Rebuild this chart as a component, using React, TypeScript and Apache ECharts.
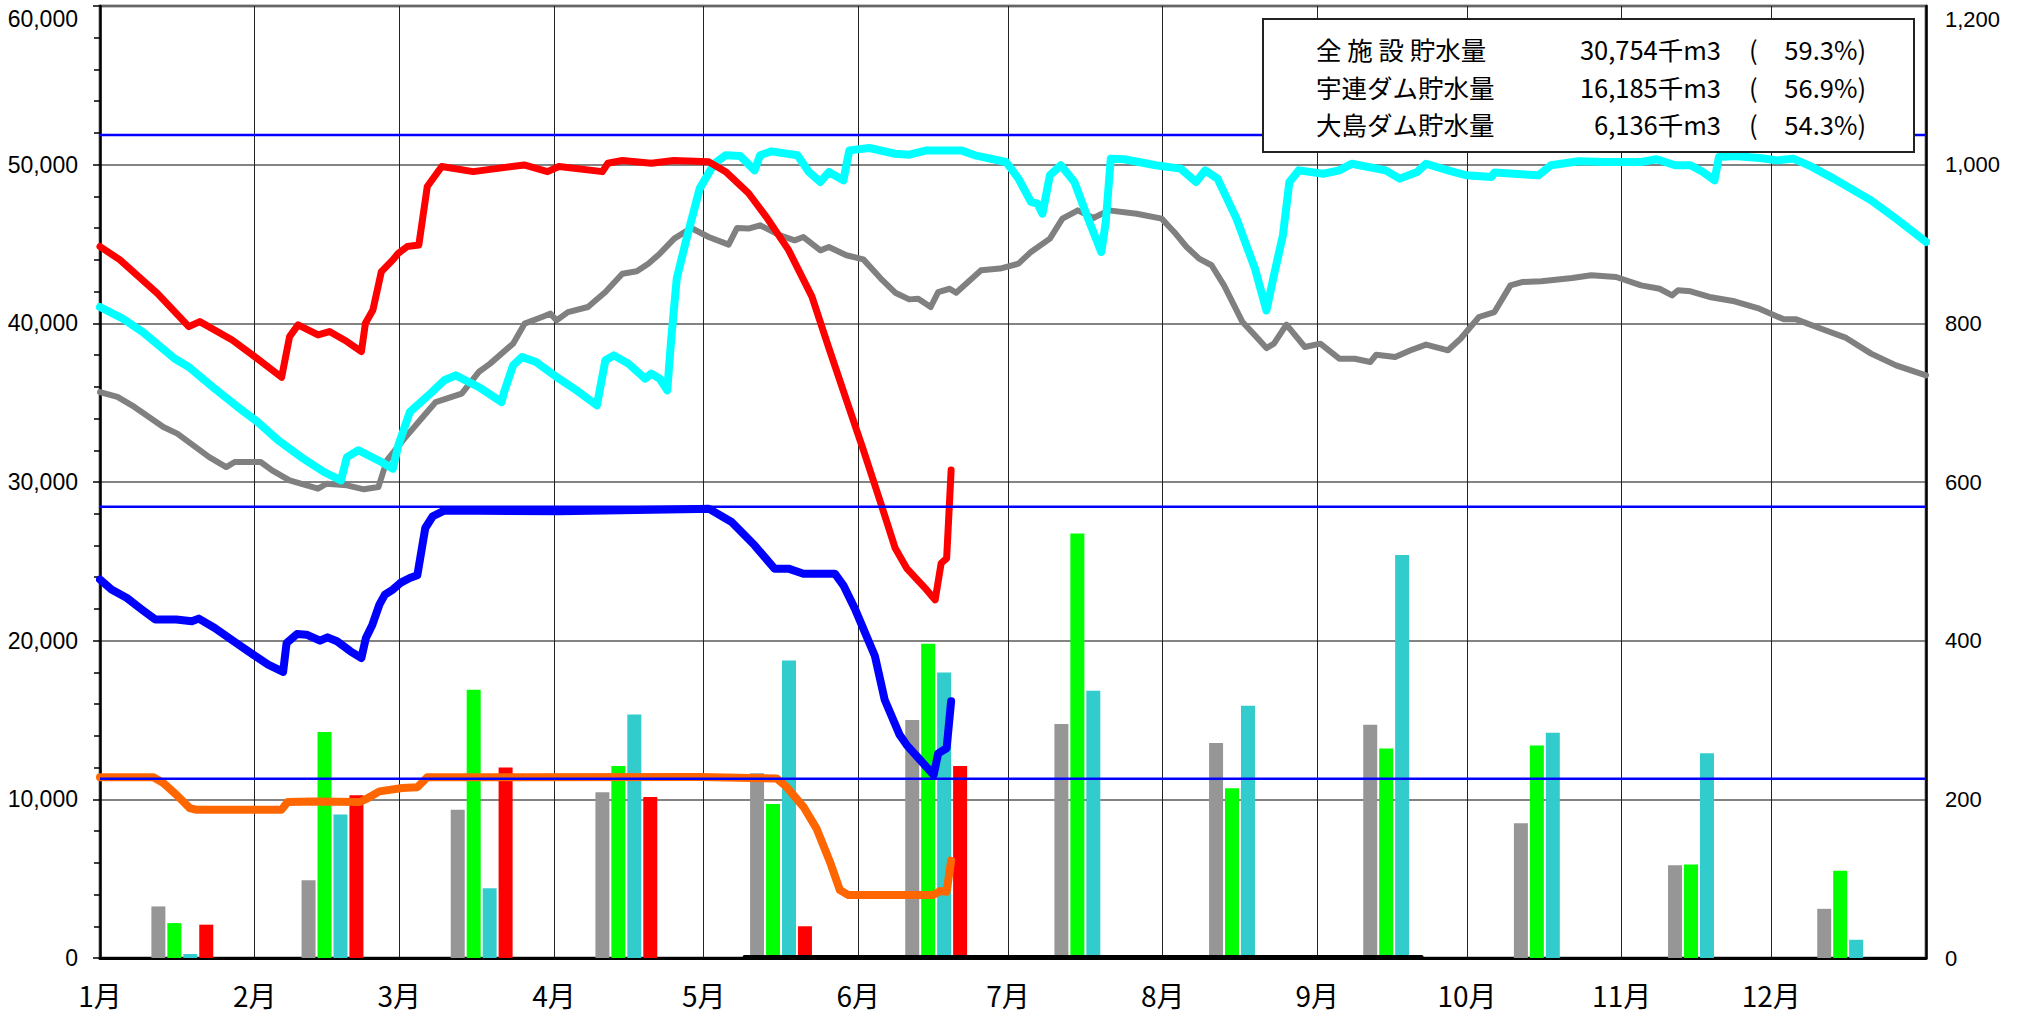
import React, { useEffect, useRef } from 'react';
import * as echarts from 'echarts';

// ---- axis / calendar data ----
const monthLabels = ['1月', '2月', '3月', '4月', '5月', '6月', '7月', '8月', '9月', '10月', '11月', '12月'];
const monthStartDays = [0, 31, 60, 91, 121, 152, 182, 213, 244, 274, 305, 335];
const daysInYear = 366;
const leftAxisMax = 60000;
const leftAxisStep = 10000;
const rightAxisMax = 1200;
const rightAxisStep = 200;

// ---- capacity levels (full storage) ----
const capacityLevels = [51862, 28445, 11300];

// ---- storage summary (box) ----
const storageNames = ['全 施 設 貯水量', '宇連ダム貯水量', '大島ダム貯水量'];
const storageVolumes = ['30,754', '16,185', '6,136'];
const storageRates = ['59.3', '56.9', '54.3'];

// ---- monthly rainfall bars (mm, right axis) ----
const barDays = [16.5, 46.6, 76.5, 105.5, 136.5, 167.6, 197.5, 228.5, 259.4, 289.6, 320.5, 350.4];
const rainGray = [65, 98, 187, 209, 233, 300, 295, 271, 294, 170, 117, 62];
const rainGreen = [44, 285, 338, 242, 194, 396, 535, 214, 264, 268, 118, 110];
const rainCyan = [5, 181, 88, 307, 375, 360, 337, 318, 508, 284, 258, 23];
const rainRed = [42, 205, 240, 203, 40, 242];

// ---- storage lines: [day of year, 千m3] ----
const grayLine: [number, number][] = [
  [0, 35670], [3.5, 35360], [6.9, 34730], [12.7, 33470], [15.5, 33050], [21.9, 31570], [25.3, 30940], [27, 31260],
  [32.2, 31260], [34.5, 30730], [38, 30100], [43.7, 29580], [45.4, 29890], [49.5, 29790], [52.9, 29540], [55.8, 29680],
  [57.5, 31360], [61, 32730], [64.4, 33990], [67.3, 35040], [72.5, 35570], [75.9, 36930], [78.2, 37460], [82.8, 38720],
  [85.1, 39980], [88.6, 40400], [90.3, 40610], [91.5, 40190], [93.8, 40710], [97.8, 41030], [101.3, 41970], [104.7, 43130],
  [107.6, 43280], [109.9, 43760], [112.2, 44390], [115.1, 45340], [118.5, 46010], [122, 45440], [126, 44960], [127.7, 46010],
  [130, 45970], [132.3, 46180], [136.3, 45550], [139.2, 45230], [141, 45440], [144.4, 44600], [146.1, 44810], [149.6, 44290],
  [153, 44030], [156.5, 42820], [159.4, 41930], [162.2, 41510], [164, 41550], [166.5, 41030], [168, 41970], [170.3, 42180],
  [171.6, 41930], [176.6, 43340], [180.4, 43450], [184.1, 43760], [186.6, 44500], [190.4, 45340], [192.9, 46600], [196, 47120],
  [199.1, 46640], [202.2, 47120], [207.8, 46910], [212.8, 46600], [215.3, 45760], [217.8, 44810], [220.3, 44080], [222.8, 43660],
  [225.3, 42390], [229, 40080], [231.5, 39240], [233.8, 38440], [235.3, 38720], [237.8, 39920], [241.5, 38510], [244.6, 38720],
  [248.4, 37770], [251.5, 37770], [254.6, 37560], [255.8, 38020], [259.6, 37880], [262.7, 38300], [265.8, 38660], [270.2, 38300],
  [272.7, 39030], [276.4, 40400], [279.5, 40710], [282.7, 42390], [285.2, 42610], [288.9, 42650], [295.1, 42860], [298.9, 43030],
  [303.9, 42920], [308.9, 42390], [312.6, 42180], [315.1, 41760], [316.3, 42080], [318.8, 42020], [322.6, 41660], [327.6, 41390],
  [332.6, 40920], [337.5, 40250], [340, 40250], [345, 39660], [350, 39080], [355, 38090], [360, 37350], [366, 36720],
];

const cyanLine: [number, number][] = [
  [0, 41030], [4.6, 40290], [8.6, 39450], [15, 37770], [17.8, 37250], [23, 35880], [27.6, 34730], [31.6, 33780],
  [35.7, 32630], [40.3, 31570], [44.9, 30630], [48.3, 30100], [49.5, 31570], [51.8, 32000], [56.4, 31260], [58.7, 30840],
  [59.8, 32310], [62.1, 34410], [66.2, 35570], [69, 36410], [71.3, 36720], [75.9, 35990], [80.5, 35040], [81, 35670],
  [82.8, 37350], [84.6, 37880], [87.4, 37560], [92, 36510], [95.5, 35780], [99.6, 34830], [101.3, 37670], [103, 37980],
  [105.9, 37460], [109.3, 36510], [110.5, 36830], [112.2, 36510], [113.7, 35780], [114.5, 39030], [115.6, 42820], [117.4, 45130],
  [120.2, 48490], [123.1, 50060], [125.4, 50590], [128.3, 50550], [131.2, 49640], [132.3, 50590], [134.6, 50840], [139.8, 50590],
  [142.1, 49540], [144.4, 48910], [146.1, 49540], [149, 49010], [150.2, 50900], [154.2, 51050], [159.4, 50690], [162.2, 50630],
  [165.7, 50900], [172.6, 50900], [175.4, 50590], [181.6, 50170], [184.1, 49120], [186.6, 47650], [187.9, 47540], [188.9, 46910],
  [190.4, 49330], [192.6, 49960], [195.3, 48910], [197.8, 46810], [200.7, 44500], [201.6, 46390], [202.6, 50380], [205.3, 50340],
  [211.6, 49960], [216.6, 49750], [219.7, 48910], [221.5, 49640], [224, 49120], [227.8, 46600], [231.5, 43450], [233.8, 40820],
  [235.3, 43030], [237.1, 45550], [238.4, 48910], [240.3, 49640], [245.2, 49430], [248.4, 49640], [250.9, 50060], [257.7, 49640],
  [260.5, 49120], [264, 49540], [265.8, 50060], [270.2, 49640], [273.9, 49330], [278.9, 49220], [279.5, 49500], [288.3, 49330],
  [290.8, 49960], [296.4, 50210], [301.4, 50170], [308.9, 50170], [312, 50340], [315.7, 49960], [318.8, 49960], [321.3, 49540],
  [323.6, 49010], [324.5, 50480], [327.6, 50550], [332.6, 50420], [336.3, 50270], [339.4, 50380], [342.5, 49960], [347.5, 49120],
  [355, 47750], [360, 46600], [366, 45130],
];

const totalNow: [number, number][] = [
  [0, 44840], [4, 44000], [11.5, 41890], [17.8, 39790], [20, 40110], [26.5, 38950], [31, 37900], [36.4, 36600],
  [38, 39160], [39.7, 39900], [43.7, 39270], [46, 39480], [49.5, 38850], [52.4, 38220], [53.2, 40000], [54.7, 40840],
  [56.4, 43260], [58.7, 44000], [59.8, 44420], [61.6, 44840], [63.9, 44940], [65.6, 48620], [68.5, 49880], [74.8, 49560],
  [85, 49980], [89.7, 49560], [92, 49880], [100.7, 49560], [101.8, 50090], [104.7, 50260], [110.5, 50090], [115, 50260],
  [122, 50190], [125.4, 49560], [130, 48200], [133.5, 46730], [138, 44630], [142.7, 41680], [146, 38530], [149.6, 35170],
  [153, 32020], [156.5, 28660], [159.4, 25820], [161.7, 24560], [165.7, 23200], [167.4, 22570], [168.6, 24880], [169.7, 25190],
  [170.6, 30754],
];

const uzureNow: [number, number][] = [
  [0, 23850], [2.3, 23220], [5.4, 22690], [8.4, 21960], [11.1, 21330], [15.3, 21330], [18.4, 21220], [19.8, 21390],
  [23, 20800], [26.8, 19960], [30.7, 19120], [33.7, 18490], [36.7, 18030], [37.4, 19850], [39.5, 20420], [41.4, 20380],
  [44.1, 20000], [45.6, 20210], [47.5, 19960], [50.2, 19330], [52.4, 18910], [53.3, 20170], [54.6, 21010], [56, 22270],
  [57.1, 22900], [58.7, 23220], [60.2, 23640], [62.1, 23950], [63.6, 24120], [65.2, 27100], [66.7, 27840], [69, 28200],
  [92, 28150], [120, 28300], [122, 28320], [126.6, 27480], [131.2, 26010], [135.2, 24540], [138, 24540], [141, 24220],
  [147.3, 24220], [149, 23490], [151.3, 22020], [155.3, 19050], [157.3, 16260], [160.3, 14050], [161.7, 13420], [164.4, 12480],
  [167.1, 11530], [168, 12900], [169.7, 13220], [170.6, 16185],
];

const oshimaNow: [number, number][] = [
  [0, 11390], [10.7, 11390], [12.7, 11030], [15.3, 10290], [18, 9450], [19.2, 9350], [36.4, 9350], [37.6, 9830],
  [42.9, 9870], [52.1, 9830], [53.7, 10080], [56, 10500], [60.6, 10710], [63.6, 10760], [65.6, 11390], [120.3, 11400],
  [135.6, 11320], [137.6, 10790], [141, 9530], [143.6, 8170], [146.3, 6070], [148.3, 4280], [150, 3970], [167, 3970],
  [168.4, 4220], [169.7, 4180], [170.6, 6136],
];

const otherFacility: [number, number][] = [[129.2, 60], [264.9, 60]];

const numFmt = (v: number) => Number(v).toLocaleString('en-US');

function buildOption() {
  const barSeries = [
    { name: 'rainGray', color: '#969696', values: rainGray },
    { name: 'rainGreen', color: '#00FF00', values: rainGreen },
    { name: 'rainCyan', color: '#33CCCC', values: rainCyan },
    { name: 'rainRed', color: '#FF0000', values: rainRed },
  ].map((b) => ({
    name: b.name,
    type: 'bar',
    xAxisIndex: 0,
    yAxisIndex: 1,
    barWidth: 14,
    barGap: '14%',
    itemStyle: { color: b.color },
    data: b.values.map((v, i) => [barDays[i], v]),
    z: 2,
  }));

  const lineDefs = [
    { name: 'gray', color: '#808080', width: 6, data: grayLine },
    { name: 'cyan', color: '#00FFFF', width: 8, data: cyanLine },
    { name: 'total', color: '#FF0000', width: 7, data: totalNow },
    { name: 'uzure', color: '#0000FF', width: 8, data: uzureNow },
    { name: 'oshima', color: '#FF6600', width: 8, data: oshimaNow },
    { name: 'other', color: '#000000', width: 4, data: otherFacility },
  ];
  const lineSeries = lineDefs.map((l) => ({
    name: l.name,
    type: 'line',
    xAxisIndex: 0,
    yAxisIndex: 0,
    symbol: 'none',
    showSymbol: false,
    lineStyle: { color: l.color, width: l.width, cap: 'round', join: 'round' },
    data: l.data,
    z: 3,
  }));

  const capacitySeries = capacityLevels.map((c, i) => ({
    name: 'capacity' + i,
    type: 'line',
    xAxisIndex: 0,
    yAxisIndex: 0,
    symbol: 'none',
    showSymbol: false,
    lineStyle: { color: '#0000FF', width: 2.5 },
    data: [[0, c], [daysInYear, c]],
    z: 4,
  }));

  const dayCats = Array.from({ length: daysInYear + 1 }, (_, i) => String(i));
  const isMonthStart = (index: number) => monthStartDays.indexOf(index) >= 0;

  const graphics: any[] = [
    {
      type: 'rect',
      shape: { x: 1263, y: 19, width: 651, height: 133 },
      style: { fill: '#ffffff', stroke: '#222', lineWidth: 2 },
      z: 100,
    },
  ];
  const boxFont = "'Noto Sans CJK JP', sans-serif";
  const boxSize = 25.5;
  storageNames.forEach((name, i) => {
    const y = 48.5 + i * 37.5;
    graphics.push(
      { type: 'text', x: 1316, y, z: 101, style: { text: name, fontSize: boxSize, fontFamily: boxFont, fill: '#000', align: 'left', verticalAlign: 'middle' } },
      { type: 'text', x: 1721, y, z: 101, style: { text: storageVolumes[i] + '千m3', fontSize: boxSize, fontFamily: boxFont, fill: '#000', align: 'right', verticalAlign: 'middle' } },
      { type: 'text', x: 1749, y, z: 101, style: { text: '(', fontSize: boxSize, fontFamily: boxFont, fill: '#000', align: 'left', verticalAlign: 'middle' } },
      { type: 'text', x: 1866, y, z: 101, style: { text: storageRates[i] + '%)', fontSize: boxSize, fontFamily: boxFont, fill: '#000', align: 'right', verticalAlign: 'middle' } },
    );
  });

  const labelFont = "'Liberation Sans', Arial, sans-serif";
  const makeYFormatter = (max: number) => (v: number) =>
    v === max ? '{top|' + numFmt(v) + '}' : numFmt(v);
  const topRich = (size: number) => ({
    top: { fontSize: size, fontFamily: labelFont, color: '#000', padding: [26, 0, 0, 0] },
  });

  return {
    animation: false,
    backgroundColor: '#ffffff',
    grid: {
      left: 100,
      right: 91,
      top: 6,
      bottom: 60,
      show: true,
      borderColor: '#8a8a8a',
      borderWidth: 3,
      backgroundColor: 'transparent',
      outerBoundsMode: 'none',
      containLabel: false,
    },
    xAxis: [
      {
        type: 'value',
        min: 0,
        max: daysInYear,
        show: false,
      },
      {
        type: 'category',
        data: dayCats,
        boundaryGap: false,
        position: 'bottom',
        axisLine: { show: true, lineStyle: { color: '#000', width: 3 } },
        axisTick: { show: false },
        axisLabel: {
          interval: (index: number) => isMonthStart(index),
          formatter: (_v: string, index: number) => monthLabels[monthStartDays.indexOf(index)] || '',
          fontSize: 28,
          fontFamily: "'Noto Sans CJK JP'",
          color: '#000',
          margin: 23,
        },
        splitLine: {
          show: true,
          interval: (index: number) => index > 0 && isMonthStart(index),
          lineStyle: { color: '#222', width: 1 },
        },
      },
    ],
    yAxis: [
      {
        type: 'value',
        min: 0,
        max: leftAxisMax,
        interval: leftAxisStep,
        position: 'left',
        axisLine: { show: true, lineStyle: { color: '#000', width: 2.5 } },
        axisTick: { show: true, length: 7, lineStyle: { color: '#000', width: 1.5 } },
        minorTick: { show: true, splitNumber: 5, length: 6, lineStyle: { color: '#000', width: 1.5 } },
        axisLabel: {
          formatter: makeYFormatter(leftAxisMax),
          rich: topRich(23),
          fontSize: 23,
          fontFamily: labelFont,
          color: '#000',
          margin: 22,
        },
        splitLine: { show: true, lineStyle: { color: '#5a5a5a', width: 1.5 } },
      },
      {
        type: 'value',
        min: 0,
        max: rightAxisMax,
        interval: rightAxisStep,
        position: 'right',
        axisLine: { show: true, lineStyle: { color: '#000', width: 2.5 } },
        axisTick: { show: false },
        axisLabel: {
          formatter: makeYFormatter(rightAxisMax),
          rich: topRich(22),
          fontSize: 22,
          fontFamily: labelFont,
          color: '#000',
          margin: 19,
        },
        splitLine: { show: false },
      },
    ],
    series: [...barSeries, ...lineSeries, ...capacitySeries],
    graphic: graphics,
  };
}

export default function App() {
  const ref = useRef<HTMLDivElement>(null);
  useEffect(() => {
    if (!ref.current) return;
    const chart = echarts.init(ref.current, null, { renderer: 'svg' });
    chart.setOption(buildOption() as any);
    return () => {
      chart.dispose();
    };
  }, []);
  return (
    <div
      ref={ref}
      style={{ position: 'absolute', left: 0, top: 0, width: 2017, height: 1018, background: '#fff' }}
    />
  );
}
